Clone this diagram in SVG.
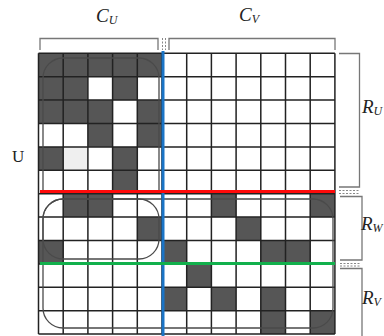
<svg xmlns="http://www.w3.org/2000/svg" width="384" height="336" viewBox="0 0 384 336">
<style>
.d{fill:#565656}
.g{fill:none;stroke:#222;stroke-width:1.5}
.rr{fill:none;stroke:#4a4a4a;stroke-width:1.3}
.br{fill:none;stroke:#777;stroke-width:1.3}
.ds{fill:none;stroke:#888;stroke-width:1;stroke-dasharray:2 1.5}
.m{font-family:"Liberation Serif","DejaVu Serif",serif;font-style:italic;fill:#222}
</style>
<rect width="384" height="336" fill="#fff"/>
<g id="cells">
<rect class="d" x="38.5" y="53.3" width="123.5" height="23.4"/>
<rect class="d" x="38.5" y="76.7" width="49.4" height="23.4"/>
<rect class="d" x="112.6" y="76.7" width="24.7" height="23.4"/>
<rect class="d" x="38.5" y="100.1" width="74.1" height="23.4"/>
<rect class="d" x="137.3" y="100.1" width="24.7" height="23.4"/>
<rect class="d" x="87.9" y="123.5" width="24.7" height="23.4"/>
<rect class="d" x="137.3" y="123.5" width="24.7" height="23.4"/>
<rect class="d" x="38.5" y="146.9" width="24.7" height="23.4"/>
<rect fill="#efefef" x="63.2" y="146.9" width="24.7" height="23.4"/>
<rect class="d" x="112.6" y="146.9" width="24.7" height="23.4"/>
<rect class="d" x="112.6" y="170.3" width="24.7" height="23.4"/>
<rect class="d" x="63.2" y="193.7" width="49.4" height="23.4"/>
<rect class="d" x="211.4" y="193.7" width="24.7" height="23.4"/>
<rect class="d" x="310.2" y="193.7" width="24.7" height="23.4"/>
<rect class="d" x="137.3" y="217.1" width="24.7" height="23.4"/>
<rect class="d" x="236.1" y="217.1" width="24.7" height="23.4"/>
<rect class="d" x="38.5" y="240.5" width="24.7" height="23.4"/>
<rect class="d" x="162" y="240.5" width="24.7" height="23.4"/>
<rect class="d" x="260.8" y="240.5" width="49.4" height="23.4"/>
<rect class="d" x="186.7" y="263.9" width="24.7" height="23.4"/>
<rect class="d" x="162" y="287.3" width="24.7" height="23.4"/>
<rect class="d" x="211.4" y="287.3" width="24.7" height="23.4"/>
<rect class="d" x="260.8" y="287.3" width="24.7" height="23.4"/>
<rect class="d" x="260.8" y="310.7" width="24.7" height="23.4"/>
<rect class="d" x="310.2" y="310.7" width="24.7" height="23.4"/>
</g>
<g id="grid">
<path class="g" d="M38.5 53.3V334.1M63.2 53.3V334.1M87.9 53.3V334.1M112.6 53.3V334.1M137.3 53.3V334.1M162 53.3V334.1M186.7 53.3V334.1M211.4 53.3V334.1M236.1 53.3V334.1M260.8 53.3V334.1M285.5 53.3V334.1M310.2 53.3V334.1M334.9 53.3V334.1"/>
<path class="g" d="M38.5 53.3H334.9M38.5 76.7H334.9M38.5 100.1H334.9M38.5 123.5H334.9M38.5 146.9H334.9M38.5 170.3H334.9M38.5 193.7H334.9M38.5 217.1H334.9M38.5 240.5H334.9M38.5 263.9H334.9M38.5 287.3H334.9M38.5 310.7H334.9M38.5 334.1H334.9"/>
</g>
<g id="blocks">
<path class="rr" d="M43 190V78A20 20 0 0 1 63 58H139A20 20 0 0 1 159 78V190"/>
<rect class="rr" x="43" y="199" width="116" height="60" rx="20"/>
<rect class="rr" x="43" y="199" width="290" height="129" rx="20"/>
</g>
<g id="connectors">
<line x1="163" y1="51" x2="163" y2="336" stroke="#1a74c6" stroke-width="3"/>
<line x1="40" y1="191.5" x2="335" y2="191.5" stroke="#ff0a0a" stroke-width="3"/>
<line x1="40" y1="263.5" x2="335" y2="263.5" stroke="#12b04c" stroke-width="3"/>
</g>
<g id="brackets">
<path class="br" d="M40 50V38.5H158V50"/>
<path class="br" d="M169 50V38.5H335V50"/>
<path class="ds" d="M162.5 38V50M165.5 38V50"/>
<path class="br" d="M339 53.5H359.5V187H339"/>
<path class="ds" d="M339 190.5H359M339 193.5H359"/>
<path class="br" d="M340 196.5H362V260H340"/>
<path class="ds" d="M340 263.5H360M340 266H360"/>
<path class="br" d="M340 268.5H362V336"/>
</g>
<g id="labels">
<text class="m" x="96" y="22" font-size="19">C<tspan font-size="12" dy="2">U</tspan></text>
<text class="m" x="239" y="21" font-size="19">C<tspan font-size="12" dy="2">V</tspan></text>
<text class="m" x="362" y="113" font-size="19">R<tspan font-size="12" dy="2">U</tspan></text>
<text class="m" x="361" y="230" font-size="19">R<tspan font-size="12" dy="2">W</tspan></text>
<text class="m" x="362" y="304" font-size="19">R<tspan font-size="12" dy="2">V</tspan></text>
<text x="12" y="162" font-family="Liberation Serif,serif" font-size="17" fill="#222">U</text>
</g>
</svg>
